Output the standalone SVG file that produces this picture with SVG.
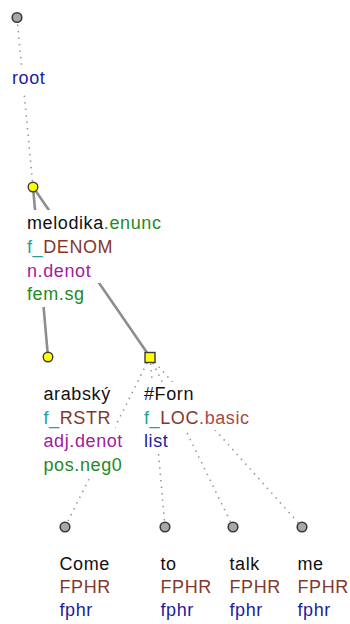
<svg xmlns="http://www.w3.org/2000/svg" width="350" height="624" viewBox="0 0 350 624">
<style>
text{font-family:"Liberation Sans",Arial,sans-serif;font-size:18px;letter-spacing:0.6px}
.bg{fill:#ffffff}
.solid{stroke:#8e8e8e;stroke-width:2.6;fill:none;stroke-linecap:round}
.dot{stroke:#9a9a9a;stroke-width:1.6;fill:none;stroke-dasharray:1.5 5}
.gn{fill:#a8a8a8;stroke:#3a3a3a;stroke-width:1.6}
.yn{fill:#ffff00;stroke:#3a3a3a;stroke-width:1.4}
.k{fill:#111111}.g{fill:#238a23}.t{fill:#22a0a0}.b{fill:#84382a}.r{fill:#b0483a}.p{fill:#a020a0}.bl{fill:#1c1ca0}
</style>
<rect width="350" height="624" fill="#ffffff"/>
<g id="connectors">
<line class="dot" x1="17" y1="18" x2="33" y2="187"/>
<line class="solid" x1="33" y1="187" x2="48" y2="357"/>
<line class="solid" x1="33" y1="187" x2="150" y2="357"/>
<line class="dot" x1="150" y1="357" x2="65" y2="527"/>
<line class="dot" x1="150" y1="357" x2="165" y2="527"/>
<line class="dot" x1="150" y1="357" x2="233" y2="527"/>
<line class="dot" x1="150" y1="357" x2="302" y2="527"/>
</g>
<g id="n-root">
<circle class="gn" cx="17" cy="17.5" r="4.8"/>
<rect class="bg" x="9" y="67" width="42" height="24"/>
<text x="12" y="84"><tspan class="bl">root</tspan></text>
</g>
<g id="n-melodika">
<circle class="yn" cx="33" cy="187" r="4.8"/>
<rect class="bg" x="24" y="210" width="146" height="24"/>
<rect class="bg" x="24" y="234" width="96" height="24"/>
<rect class="bg" x="24" y="258" width="76" height="25"/>
<rect class="bg" x="24" y="283" width="64" height="24"/>
<text x="27" y="228.5"><tspan class="k">melodika</tspan><tspan class="g">.enunc</tspan></text>
<text x="27" y="252.5"><tspan class="t">f_</tspan><tspan class="b">DENOM</tspan></text>
<text x="27" y="276.5" class="p">n.denot</text>
<text x="27" y="300" class="g">fem.sg</text>
</g>
<g id="n-arabsky">
<circle class="yn" cx="48" cy="357" r="4.8"/>
<rect class="bg" x="41" y="382" width="74" height="24"/>
<rect class="bg" x="41" y="406" width="74" height="24"/>
<rect class="bg" x="41" y="430" width="86" height="24"/>
<rect class="bg" x="41" y="454" width="86" height="24"/>
<text x="43.5" y="400"><tspan class="k">arabský</tspan></text>
<text x="43.5" y="423.5"><tspan class="t">f_</tspan><tspan class="b">RSTR</tspan></text>
<text x="43.5" y="447" class="p">adj.denot</text>
<text x="43.5" y="471" class="g">pos.neg0</text>
</g>
<g id="n-forn">
<rect class="yn" x="145" y="352.5" width="10" height="10"/>
<rect class="bg" x="141" y="382" width="58" height="24"/>
<rect class="bg" x="141" y="406" width="114" height="24"/>
<rect class="bg" x="141" y="430" width="32" height="24"/>
<text x="144" y="400"><tspan class="k">#Forn</tspan></text>
<text x="144" y="423.5"><tspan class="t">f_</tspan><tspan class="b">LOC</tspan><tspan class="r">.basic</tspan></text>
<text x="144" y="447" class="bl">list</text>
</g>
<g id="n-come">
<circle class="gn" cx="65" cy="527" r="4.8"/>
<text x="59.5" y="569.5" class="k">Come</text>
<text x="59.5" y="593" class="b">FPHR</text>
<text x="59.5" y="616" class="bl">fphr</text>
</g>
<g id="n-to">
<circle class="gn" cx="165" cy="527" r="4.8"/>
<text x="160.5" y="569.5" class="k">to</text>
<text x="160.5" y="593" class="b">FPHR</text>
<text x="160.5" y="616" class="bl">fphr</text>
</g>
<g id="n-talk">
<circle class="gn" cx="233" cy="527" r="4.8"/>
<text x="229.5" y="569.5" class="k">talk</text>
<text x="229.5" y="593" class="b">FPHR</text>
<text x="229.5" y="616" class="bl">fphr</text>
</g>
<g id="n-me">
<circle class="gn" cx="302" cy="527" r="4.8"/>
<text x="297.5" y="569.5" class="k">me</text>
<text x="297.5" y="593" class="b">FPHR</text>
<text x="297.5" y="616" class="bl">fphr</text>
</g>
</svg>
